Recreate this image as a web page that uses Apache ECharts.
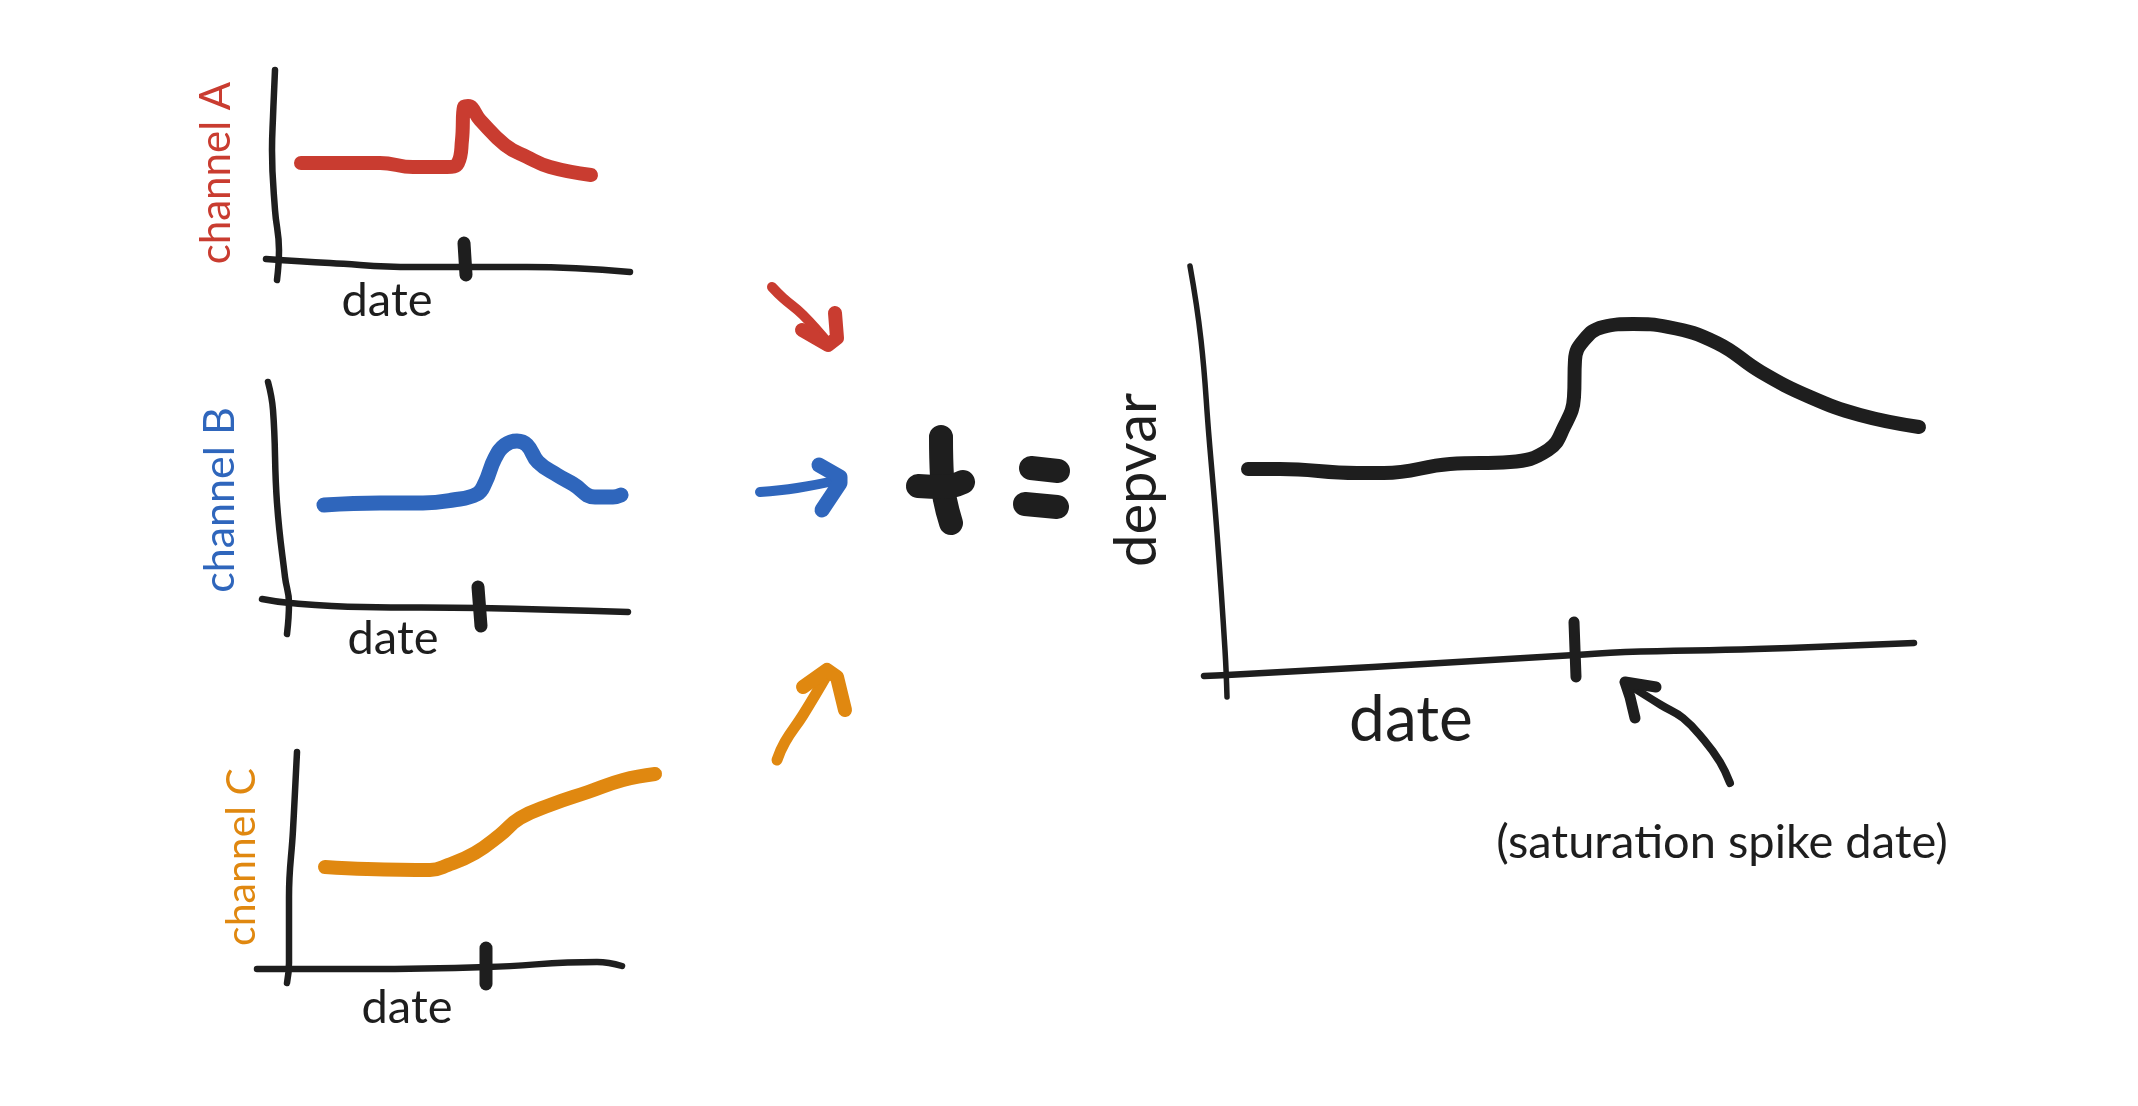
<!DOCTYPE html>
<html>
<head>
<meta charset="utf-8">
<style>html,body{margin:0;padding:0;background:#fff}#c{width:2138px;height:1106px}</style>
<script src="https://cdn.jsdelivr.net/npm/echarts@6/dist/echarts.min.js"></script>
</head>
<body>
<div id="c"></div>
<script>
// ---- Chart values: [date, value] in each panel's units ----
const channelA = [[25,97],[104,97],[137,93],[171,93],[182,97],[186,120],[188,153],[192,154],[204,140],[229,115],[251,103],[274,93],[315,85]];
const channelB = [[34,98],[90,100],[133,100],[163,103],[187,109],[195,120],[205,145],[215,158],[227,162],[237,158],[248,141],[267,128],[283,119],[305,106],[323,106],[331,108]];
const channelC = [[36,101],[78,99],[141,98],[159,103],[186,115],[211,133],[231,150],[261,163],[299,176],[334,188],[366,194]];
const depvar = [[21,206],[53,206],[130,202],[157,202],[223,211],[283,213],[321,225],[337,248],[347,278],[348,315],[357,335],[376,348],[406,351],[441,348],[490,332],[534,303],[583,278],[633,260],[692,248]];

// Hand-drawn axes and spike-date ticks
const axisYA = [[-1,190],[-3,143],[-4,110],[-1,50],[3,10],[1,-20]];
const axisXA = [[-10,1],[54,-3],[137,-7],[191,-7],[251,-7],[354,-12]];
const tickA = [[188,17],[190,-15]];
const axisYB = [[-22,221],[-17,193],[-13,100],[-5,26],[-1,0],[-3,-31]];
const axisXB = [[-28,4],[0,0],[73,-4],[190,-5],[338,-9]];
const tickB = [[188,16],[191,-23]];
const axisYC = [[8,216],[4,138],[0,71],[0,5],[-2,-15]];
const axisXC = [[-32,-1],[78,-1],[198,1],[308,6],[333,2]];
const tickC = [[197,20],[197,-16]];
const axisYD = [[-37,409],[-26,335],[-18,238],[-10,142],[-2,25],[0,-22]];
const axisXD = [[-23,-1],[0,0],[146,8],[348,20],[398,23],[529,26],[687,32]];
const tickD = [[347,53],[349,-2]];

// Spike-date pointer in the depvar panel
const pointerShaft = [[503,-108],[493,-87],[477,-65],[456,-43],[434,-30],[399,-8]];
const pointerHead = [[408,-43],[403,-22],[398,-7],[429,-12]];

// Arrows and the plus / equals signs between the panels
const redShaft = [[32,513],[43,502],[63,485],[88,457]];
const redHead = [[95,487],[97,462],[88,455],[62,470]];
const blueShaft = [[20,308],[57,312],[98,320]];
const blueHead = [[79,335],[100,323],[100,317],[82,290]];
const orangeShaft = [[37,40],[45,58],[63,85],[88,127]];
const orangeHead = [[63,113],[87,130],[97,123],[105,90]];
const plusV = [[201,363],[202,323],[211,277]];
const plusH = [[178,314],[203,313],[223,318]];
const equalsTop = [[291,332],[318,329]];
const equalsBottom = [[285,296],[317,293]];

// Text
const labelChannelA = 'channel A', labelChannelB = 'channel B', labelChannelC = 'channel C';
const labelDate = 'date', labelDepvar = 'depvar', labelNote = '(saturation spike date)';

// ---- Styling and layout ----
const RED = '#c93c30', BLUE = '#2f66bc', ORANGE = '#e08810', INK = '#1e1e1e';
const FONT = 'Lato';
const panels = [
  {x0:276,  y0:260, xmin:-40, xmax:370, ymin:-60,  ymax:200},
  {x0:290,  y0:603, xmin:-40, xmax:350, ymin:-60,  ymax:230},
  {x0:289,  y0:968, xmin:-40, xmax:380, ymin:-60,  ymax:225},
  {x0:1227, y0:675, xmin:-70, xmax:720, ymin:-200, ymax:420},
  {x0:740,  y0:800, xmin:0,   xmax:340, ymin:0,    ymax:540}
];
const grid = panels.map(p => ({left:p.x0+p.xmin, top:p.y0-p.ymax, width:p.xmax-p.xmin, height:p.ymax-p.ymin, show:false}));
const hiddenAxis = {type:'value', show:false, splitLine:{show:false}};
const xAxis = panels.map((p,i) => ({...hiddenAxis, gridIndex:i, min:p.xmin, max:p.xmax}));
const yAxis = panels.map((p,i) => ({...hiddenAxis, gridIndex:i, min:p.ymin, max:p.ymax}));

function stroke(name, data, panel, color, width) {
  return {name, type:'line', data, xAxisIndex:panel, yAxisIndex:panel, showSymbol:false, silent:true,
    clip:false, smooth:0.45, animation:false,
    lineStyle:{color, width, cap:'round', join:'round'}};
}
function straight(name, data, panel, color, width) {
  return {...stroke(name, data, panel, color, width), smooth:false};
}
function text(content, at, panel, color, size, rotate) {
  return {type:'scatter', data:[at], xAxisIndex:panel, yAxisIndex:panel, symbolSize:1, silent:true,
    clip:false, animation:false, itemStyle:{color:'rgba(255,255,255,0)'},
    label:{show:true, position:'inside', formatter:content, color, fontSize:size, fontFamily:FONT, rotate:rotate||0, opacity:1},
    labelLayout:{hideOverlap:false}};
}

const series = [
  stroke('axis y A', axisYA, 0, INK, 6.5), stroke('axis x A', axisXA, 0, INK, 6.5), straight('tick A', tickA, 0, INK, 13),
  stroke('channel A', channelA, 0, RED, 14),
  text(labelChannelA, [-60,87], 0, RED, 42, 90), text(labelDate, [111,-41], 0, INK, 47),

  stroke('axis y B', axisYB, 1, INK, 6.5), stroke('axis x B', axisXB, 1, INK, 6.5), straight('tick B', tickB, 1, INK, 13),
  stroke('channel B', channelB, 1, BLUE, 15),
  text(labelChannelB, [-70,103], 1, BLUE, 43, 90), text(labelDate, [103,-36], 1, INK, 47),

  stroke('axis y C', axisYC, 2, INK, 6.5), stroke('axis x C', axisXC, 2, INK, 6.5), straight('tick C', tickC, 2, INK, 13),
  stroke('channel C', channelC, 2, ORANGE, 14),
  text(labelChannelC, [-47,111], 2, ORANGE, 41, 90), text(labelDate, [118,-40], 2, INK, 47),

  stroke('axis y depvar', axisYD, 3, INK, 5.5), stroke('axis x depvar', axisXD, 3, INK, 6.5), straight('tick depvar', tickD, 3, INK, 11),
  stroke('depvar', depvar, 3, INK, 14),
  stroke('pointer shaft', pointerShaft, 3, INK, 8), straight('pointer head', pointerHead, 3, INK, 11),
  text(labelDepvar, [-90,195], 3, INK, 58, 90), text(labelDate, [184,-45], 3, INK, 64),
  text(labelNote, [495,-168], 3, INK, 47),

  stroke('red arrow', redShaft, 4, RED, 10), straight('red head', redHead, 4, RED, 14),
  stroke('blue arrow', blueShaft, 4, BLUE, 10), straight('blue head', blueHead, 4, BLUE, 15),
  stroke('orange arrow', orangeShaft, 4, ORANGE, 11), straight('orange head', orangeHead, 4, ORANGE, 14),
  stroke('plus vertical', plusV, 4, INK, 24), stroke('plus horizontal', plusH, 4, INK, 24),
  straight('equals top', equalsTop, 4, INK, 24), straight('equals bottom', equalsBottom, 4, INK, 24)
];

const chart = echarts.init(document.getElementById('c'));
chart.setOption({backgroundColor:'#ffffff', animation:false, tooltip:{show:false}, legend:{show:false}, grid, xAxis, yAxis, series});
</script>
</body>
</html>
